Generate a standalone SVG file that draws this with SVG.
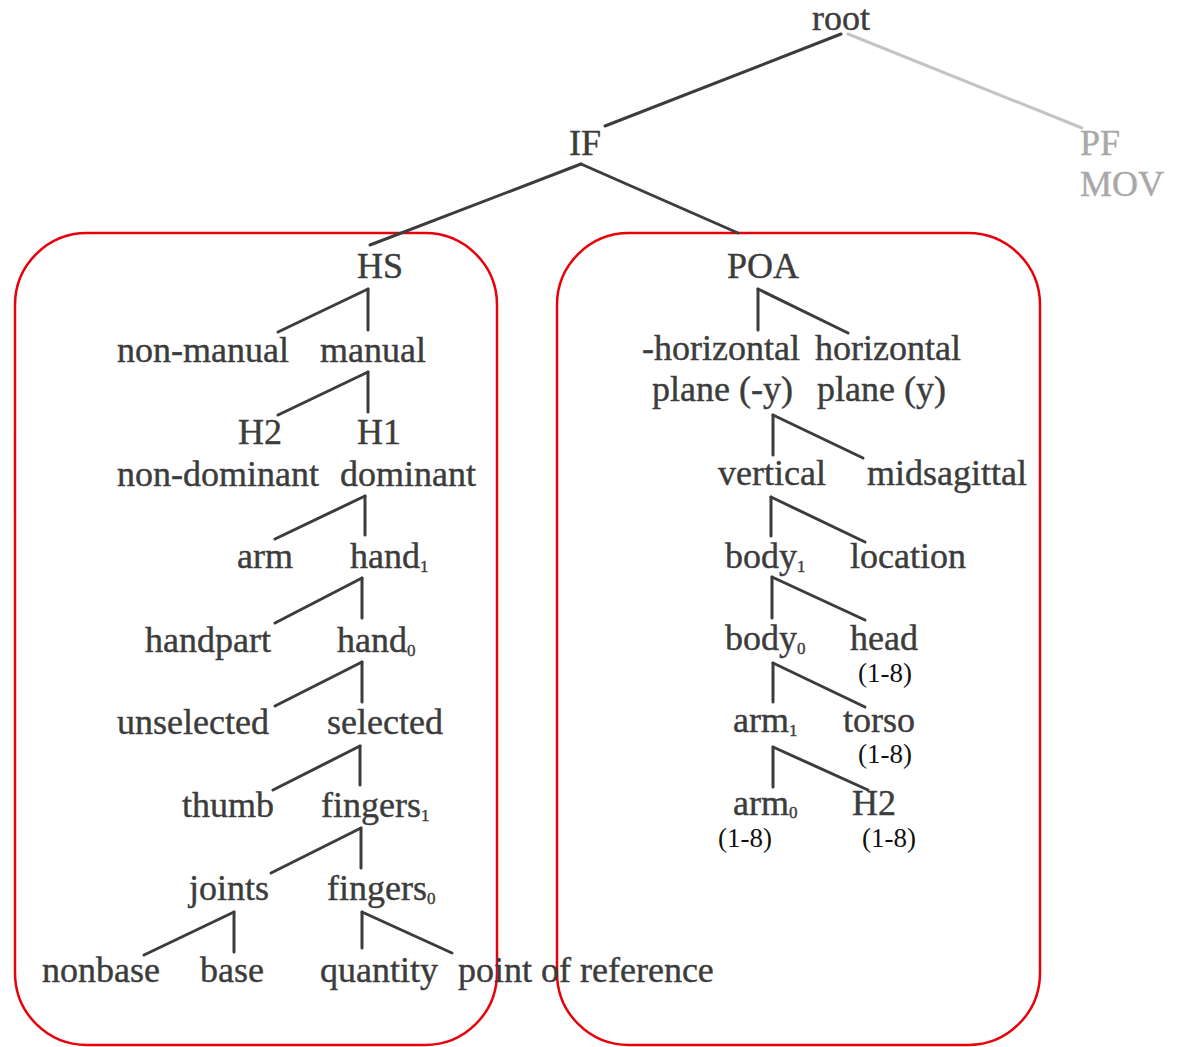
<svg xmlns="http://www.w3.org/2000/svg" width="1179" height="1047" viewBox="0 0 1179 1047">
<style>
text{font-family:"Liberation Serif","Times New Roman",serif;font-size:36px;fill:#3c3c3c;stroke:#3c3c3c;stroke-width:0.4}
.g{fill:#a8a8a8;stroke:#a8a8a8}
.n{font-size:27px;fill:#111;stroke:none}
.s{font-size:17px}
.e line{stroke:#3c3c3c;stroke-width:3;stroke-linecap:round}
.e line.gl{stroke:#c4c4c4}
.box{fill:none;stroke:#e8000b;stroke-width:2.5}
</style>
<rect width="1179" height="1047" fill="#fff"/>
<rect class="box" x="15" y="233" width="482" height="812" rx="72" ry="72"/>
<rect class="box" x="557" y="233" width="483" height="812" rx="72" ry="72"/>
<g class="e" id="connectors">
<line x1="841" y1="34" x2="605" y2="126"/>
<line class="gl" x1="848" y1="34" x2="1082" y2="128"/>
<line x1="581" y1="164" x2="370" y2="245"/>
<line x1="581" y1="164" x2="738" y2="233"/>
<line x1="368" y1="289" x2="278" y2="332"/>
<line x1="368" y1="289" x2="368" y2="330"/>
<line x1="368" y1="372" x2="278" y2="415"/>
<line x1="368" y1="372" x2="368" y2="412"/>
<line x1="365" y1="496" x2="275" y2="539"/>
<line x1="365" y1="496" x2="365" y2="535"/>
<line x1="362" y1="578" x2="275" y2="623"/>
<line x1="362" y1="578" x2="362" y2="618"/>
<line x1="362" y1="662" x2="275" y2="706"/>
<line x1="362" y1="662" x2="362" y2="702"/>
<line x1="360" y1="746" x2="273" y2="790"/>
<line x1="360" y1="746" x2="360" y2="785"/>
<line x1="361" y1="828" x2="271" y2="873"/>
<line x1="361" y1="828" x2="361" y2="868"/>
<line x1="234" y1="912" x2="144" y2="955"/>
<line x1="234" y1="912" x2="234" y2="952"/>
<line x1="362" y1="912" x2="362" y2="948"/>
<line x1="362" y1="912" x2="452" y2="953"/>
<line x1="758" y1="289" x2="758" y2="330"/>
<line x1="758" y1="289" x2="848" y2="333"/>
<line x1="773" y1="415" x2="773" y2="455"/>
<line x1="773" y1="415" x2="863" y2="458"/>
<line x1="771" y1="497" x2="771" y2="536"/>
<line x1="771" y1="497" x2="865" y2="542"/>
<line x1="772" y1="577" x2="772" y2="618"/>
<line x1="772" y1="577" x2="865" y2="620"/>
<line x1="773" y1="663" x2="773" y2="702"/>
<line x1="773" y1="663" x2="865" y2="707"/>
<line x1="773" y1="747" x2="773" y2="787"/>
<line x1="773" y1="747" x2="868" y2="790"/>
</g>
<g id="root"><text x="812" y="30">root</text></g>
<g id="PF"><text class="g" x="1080" y="155">PF</text><text class="g" x="1080" y="196">MOV</text></g>
<g id="IF"><text x="569" y="155">IF</text></g>
<g id="HS"><text x="357" y="278">HS</text></g>
<g id="non-manual"><text x="117" y="362">non-manual</text></g>
<g id="manual"><text x="320" y="362">manual</text></g>
<g id="H2-left"><text x="238" y="444">H2</text><text x="117" y="486">non-dominant</text></g>
<g id="H1"><text x="357" y="444">H1</text><text x="340" y="486">dominant</text></g>
<g id="arm"><text x="237" y="568">arm</text></g>
<g id="hand1"><text x="350" y="568">hand<tspan class="s" dy="4">1</tspan></text></g>
<g id="handpart"><text x="145" y="652">handpart</text></g>
<g id="hand0"><text x="337" y="652">hand<tspan class="s" dy="4">0</tspan></text></g>
<g id="unselected"><text x="117" y="734">unselected</text></g>
<g id="selected"><text x="327" y="734">selected</text></g>
<g id="thumb"><text x="182" y="817">thumb</text></g>
<g id="fingers1"><text x="321" y="817">fingers<tspan class="s" dy="4">1</tspan></text></g>
<g id="joints"><text x="189" y="900">joints</text></g>
<g id="fingers0"><text x="327" y="900">fingers<tspan class="s" dy="4">0</tspan></text></g>
<g id="nonbase"><text x="42" y="982">nonbase</text></g>
<g id="base"><text x="200" y="982">base</text></g>
<g id="quantity"><text x="320" y="982">quantity</text></g>
<g id="point-of-reference"><text x="458" y="982">point of reference</text></g>
<g id="POA"><text x="727" y="278">POA</text></g>
<g id="neg-horizontal"><text x="642" y="360">-horizontal</text><text x="652" y="401">plane (-y)</text></g>
<g id="horizontal"><text x="815" y="360">horizontal</text><text x="817" y="401">plane (y)</text></g>
<g id="vertical"><text x="718" y="485">vertical</text></g>
<g id="midsagittal"><text x="867" y="485">midsagittal</text></g>
<g id="body1"><text x="725" y="568">body<tspan class="s" dy="4">1</tspan></text></g>
<g id="location"><text x="850" y="568">location</text></g>
<g id="body0"><text x="725" y="650">body<tspan class="s" dy="4">0</tspan></text></g>
<g id="head"><text x="850" y="650">head</text><text class="n" x="858" y="682">(1-8)</text></g>
<g id="arm1"><text x="733" y="732">arm<tspan class="s" dy="4">1</tspan></text></g>
<g id="torso"><text x="843" y="732">torso</text><text class="n" x="858" y="763">(1-8)</text></g>
<g id="arm0"><text x="733" y="815">arm<tspan class="s" dy="3">0</tspan></text><text class="n" x="718" y="847">(1-8)</text></g>
<g id="H2-right"><text x="852" y="815">H2</text><text class="n" x="862" y="847">(1-8)</text></g>
</svg>
